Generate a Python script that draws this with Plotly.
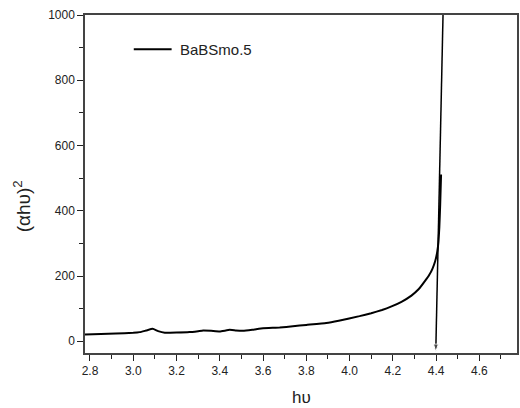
import plotly.graph_objects as go

# Main curve: (αhυ)^2 vs hυ
hv = [2.777, 2.85, 2.92, 3.0, 3.03, 3.06, 3.09, 3.115, 3.146, 3.2, 3.26, 3.3, 3.323, 3.36, 3.40,
      3.446, 3.475, 3.506, 3.55, 3.6, 3.677, 3.738, 3.8, 3.892, 3.95, 4.046, 4.1, 4.15, 4.194,
      4.24, 4.286, 4.32, 4.349, 4.368, 4.383, 4.396, 4.405, 4.411, 4.415, 4.419, 4.423]
ahv2 = [20.5, 22, 24, 25.8, 28, 33, 38, 31, 26, 26.5, 28, 31, 33, 32, 30,
        35, 33, 32, 35, 40, 42, 46, 50, 56, 63, 77, 86, 96, 107,
        121, 140, 160, 185, 203, 222, 246, 273, 305, 350, 420, 511]

# Tangent line (extrapolation to x-axis)
tan_x = [4.432, 4.3985]
tan_y = [1000, -32]

legend_name = "BaBSmo.5"
x_title = "hυ"
y_title = "(αhυ)<sup>2</sup>"

font_family = "Liberation Sans, Arial"

fig = go.Figure()
fig.add_trace(go.Scatter(x=hv, y=ahv2, mode="lines", name=legend_name, showlegend=False,
                         line=dict(color="black", width=2, shape="spline", smoothing=0.3)))
fig.add_trace(go.Scatter(x=tan_x, y=tan_y, mode="lines+markers", showlegend=False,
                         line=dict(color="black", width=1.5),
                         marker=dict(symbol=["line-ns", "arrow"], size=[1, 8],
                                     angleref="previous", color="black"),
                         cliponaxis=False))

axis_common = dict(showline=True, mirror=True, linecolor="#444", linewidth=1.5,
                   showgrid=False, zeroline=False, ticks="outside", ticklen=6,
                   tickcolor="#222", tickfont=dict(family=font_family, size=12, color="#222"))

fig.update_xaxes(range=[2.777, 4.774], tick0=2.8, dtick=0.2, tickformat=".1f",
                 minor=dict(dtick=0.1, ticks="outside", ticklen=4, tickcolor="#222"),
                 **axis_common)
fig.update_yaxes(range=[-36, 1000], tick0=0, dtick=200,
                 minor=dict(dtick=100, ticks="outside", ticklen=4, tickcolor="#222"),
                 **axis_common)

# Manual legend (line sample + label)
fig.add_shape(type="line", xref="paper", yref="paper", x0=0.1129, x1=0.2005, y0=0.899, y1=0.899,
              line=dict(color="black", width=2))
fig.add_annotation(xref="paper", yref="paper", x=0.2143, y=0.899, xanchor="left", yanchor="middle",
                   text=legend_name, showarrow=False,
                   font=dict(family=font_family, size=15, color="#222"))

# Axis titles
fig.add_annotation(xref="paper", yref="paper", x=0.5, y=-0.133, xanchor="center", yanchor="middle",
                   text=x_title, showarrow=False,
                   font=dict(family=font_family, size=17, color="#222"))
fig.add_annotation(xref="paper", yref="paper", x=-0.145, y=0.435, xanchor="center", yanchor="middle",
                   text=y_title, showarrow=False, textangle=-90,
                   font=dict(family=font_family, size=19, color="#222"))

fig.update_layout(
    width=520, height=408,
    margin=dict(l=85, r=1, t=15, b=55),
    plot_bgcolor="white", paper_bgcolor="white",
    showlegend=False,
)

fig.write_html("out.html")
